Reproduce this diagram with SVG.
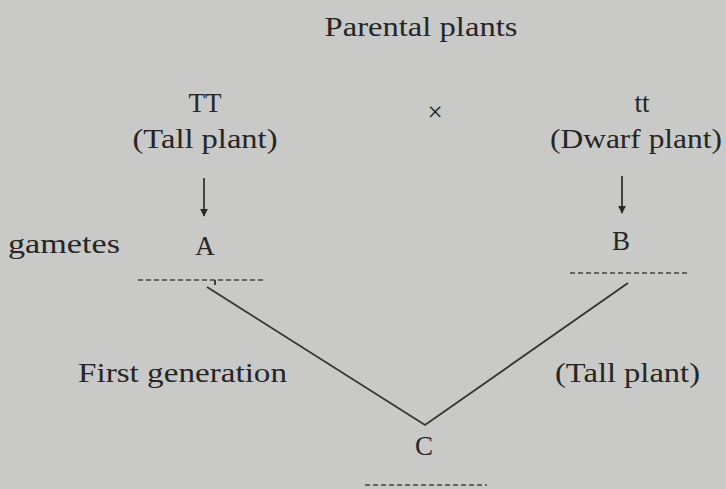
<svg xmlns="http://www.w3.org/2000/svg" width="726" height="489" viewBox="0 0 726 489">
<style>
text{font-family:"Liberation Serif","DejaVu Serif",serif;fill:#262626;font-size:27px}
.c{text-anchor:middle}
.ln{stroke:#333;stroke-width:1.8;fill:none}
.dash{stroke:#444;stroke-width:1.6;stroke-dasharray:5,3;fill:none}
</style>
<defs>
<marker id="ah" viewBox="0 0 10 10" refX="9" refY="5" markerWidth="4.5" markerHeight="4.5" orient="auto">
<path d="M0,0 L10,5 L0,10 z" fill="#2a2a2a"/>
</marker>
</defs>
<rect width="726" height="489" fill="#c9c9c7"/>
<g id="title"><text x="421" y="36" class="c" textLength="193" lengthAdjust="spacingAndGlyphs">Parental plants</text></g>
<g id="parentTT">
<text x="205" y="112" class="c">TT</text>
<text x="205" y="148" class="c" textLength="145" lengthAdjust="spacingAndGlyphs">(Tall plant)</text>
</g>
<g id="cross"><text x="435" y="121" class="c" font-size="22">×</text></g>
<g id="parenttt">
<text x="642" y="112" class="c">tt</text>
<text x="636" y="148" class="c" textLength="172" lengthAdjust="spacingAndGlyphs">(Dwarf plant)</text>
</g>
<g id="gametesLabel"><text x="8" y="253" textLength="112" lengthAdjust="spacingAndGlyphs">gametes</text></g>
<g id="gameteA">
<text x="205" y="255" class="c">A</text>
<line class="dash" x1="138" y1="280" x2="265" y2="280"/>
</g>
<g id="gameteB">
<text x="621" y="250" class="c">B</text>
<line class="dash" x1="570" y1="273" x2="690" y2="273"/>
</g>
<g id="firstGen"><text x="78" y="382" textLength="209" lengthAdjust="spacingAndGlyphs">First generation</text></g>
<g id="tallF1"><text x="555" y="382" textLength="145" lengthAdjust="spacingAndGlyphs">(Tall plant)</text></g>
<g id="offspringC">
<text x="424" y="455" class="c">C</text>
<line class="dash" x1="365" y1="485" x2="487" y2="485"/>
</g>
<g id="connectors">
<line class="ln" x1="204" y1="178" x2="204" y2="216" marker-end="url(#ah)"/>
<line class="ln" x1="622" y1="176" x2="622" y2="213" marker-end="url(#ah)"/>
<line class="ln" x1="215" y1="280" x2="215" y2="285"/>
<polyline class="ln" points="207,287 425,425 628,283"/>
</g>
</svg>
